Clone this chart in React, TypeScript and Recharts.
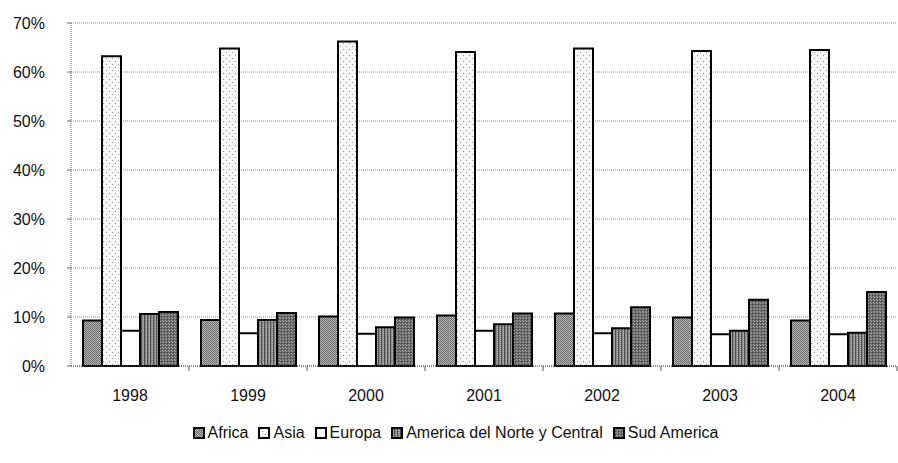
import React from "react";
import {
  BarChart,
  Bar,
  XAxis,
  YAxis,
  CartesianGrid,
  Legend,
} from "recharts";

const years = ["1998", "1999", "2000", "2001", "2002", "2003", "2004"];

const africa = [9.3, 9.4, 10.1, 10.3, 10.7, 9.9, 9.3];
const asia = [63.2, 64.8, 66.2, 64.1, 64.8, 64.3, 64.5];
const europa = [7.2, 6.7, 6.6, 7.2, 6.7, 6.5, 6.5];
const norteCentral = [10.6, 9.4, 7.9, 8.5, 7.7, 7.2, 6.8];
const sudAmerica = [11.0, 10.8, 9.9, 10.7, 12.0, 13.5, 15.1];

const yTicks = [0, 10, 20, 30, 40, 50, 60, 70];

const series = [
  { key: "africa", name: "Africa", fill: "url(#patAfrica)" },
  { key: "asia", name: "Asia", fill: "url(#patAsia)" },
  { key: "europa", name: "Europa", fill: "#ffffff" },
  { key: "norteCentral", name: "America del Norte y Central", fill: "url(#patNorte)" },
  { key: "sudAmerica", name: "Sud America", fill: "url(#patSud)" },
];

const data = years.map((year, i) => ({
  year,
  africa: africa[i],
  asia: asia[i],
  europa: europa[i],
  norteCentral: norteCentral[i],
  sudAmerica: sudAmerica[i],
}));

const FONT = "'Liberation Sans', Arial, sans-serif";
const HALF_BAND = 826 / years.length / 2;

// hidden svg, pattern ids are global to the page
function Patterns() {
  return (
    <svg width={0} height={0} style={{ position: "absolute" }}>
      <defs>
        <pattern id="patAfrica" width={2} height={2} patternUnits="userSpaceOnUse">
          <rect width={2} height={2} fill="#b4b4b4" />
          <rect width={1} height={1} fill="#6e6e6e" />
          <rect x={1} y={1} width={1} height={1} fill="#6e6e6e" />
        </pattern>
        <pattern id="patAsia" width={6} height={6} patternUnits="userSpaceOnUse">
          <rect width={6} height={6} fill="#f6f6f6" />
          <rect x={1} y={1} width={1} height={1} fill="#8a8a8a" />
          <rect x={4} y={4} width={1} height={1} fill="#a0a0a0" />
        </pattern>
        <pattern id="patNorte" width={3} height={2} patternUnits="userSpaceOnUse">
          <rect width={3} height={2} fill="#8a8a8a" />
          <rect width={1} height={2} fill="#4e4e4e" />
          <rect x={2} y={1} width={1} height={1} fill="#b8b8b8" />
        </pattern>
        <pattern id="patSud" width={3} height={3} patternUnits="userSpaceOnUse">
          <rect width={3} height={3} fill="#6a6a6a" />
          <rect x={1} y={0} width={1} height={1} fill="#a8a8a8" />
          <rect x={0} y={2} width={1} height={1} fill="#a0a0a0" />
          <rect x={2} y={1} width={1} height={1} fill="#3c3c3c" />
        </pattern>
      </defs>
    </svg>
  );
}

function YearTick(props: any) {
  const { x, y, payload } = props;
  return (
    <g>
      <line
        x1={x + HALF_BAND}
        x2={x + HALF_BAND}
        y1={y - 24}
        y2={y - 19}
        stroke="#555"
        strokeWidth={1}
      />
      <text
        x={x}
        y={y}
        dy="0.71em"
        textAnchor="middle"
        fill="#111"
        fontSize={16}
        fontFamily={FONT}
      >
        {payload.value}
      </text>
    </g>
  );
}

function LegendRow() {
  return (
    <div
      style={{
        display: "flex",
        justifyContent: "center",
        alignItems: "center",
        height: 22,
        fontFamily: FONT,
        fontSize: 16,
        color: "#111",
        paddingLeft: 24,
      }}
    >
      {series.map((s) => (
        <span
          key={s.key}
          style={{ display: "flex", alignItems: "center", marginRight: 10 }}
        >
          <svg width={12} height={12} style={{ marginRight: 3 }}>
            <rect x={1} y={1} width={10} height={10} fill={s.fill} stroke="#000" strokeWidth={2} />
          </svg>
          {s.name}
        </span>
      ))}
    </div>
  );
}

export default function App() {
  return (
    <div style={{ position: "absolute", left: 0, top: 0, background: "#fff" }}>
      <Patterns />
      <BarChart
        width={898}
        height={463}
        data={data}
        margin={{ top: 23, right: 1, left: 0, bottom: 19 }}
        barGap={0}
      >
        <CartesianGrid
          vertical={false}
          stroke="#8a8a8a"
          strokeDasharray="1 1"
        />
        <XAxis
          dataKey="year"
          height={56}
          axisLine={{ stroke: "#555", strokeDasharray: "1 1" }}
          tickLine={false}
          tickSize={0}
          tickMargin={24}
          tick={<YearTick />}
        />
        <YAxis
          width={71}
          domain={[0, 70]}
          ticks={yTicks}
          interval={0}
          tickFormatter={(v) => `${v}%`}
          axisLine={{ stroke: "#666", strokeDasharray: "1 1" }}
          tickLine={{ stroke: "#666" }}
          tickSize={4}
          tickMargin={22}
          tick={{ fontSize: 16, fill: "#111", fontFamily: FONT }}
        />
        <Legend verticalAlign="bottom" height={22} content={<LegendRow />} />
        {series.map((s) => (
          <Bar
            key={s.key}
            dataKey={s.key}
            name={s.name}
            fill={s.fill}
            stroke="#000"
            strokeWidth={2}
            barSize={19}
            isAnimationActive={false}
          />
        ))}
      </BarChart>
    </div>
  );
}
